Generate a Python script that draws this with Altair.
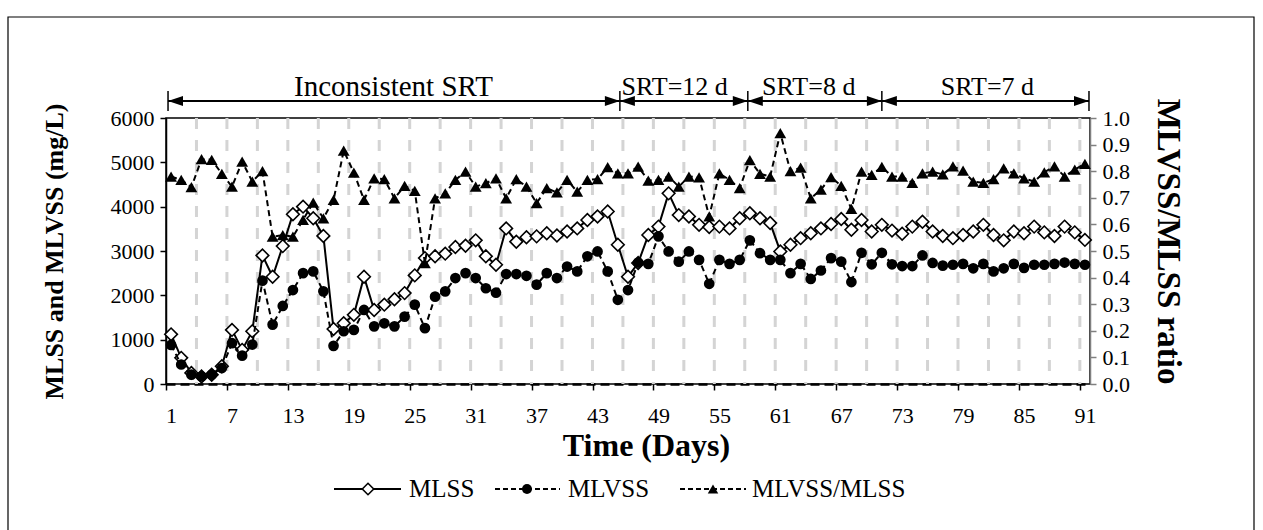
import altair as alt
import pandas as pd

# ---- data -----------------------------------------------------------------
days = list(range(1, 92))

mlss = [1120, 590, 250, 170, 210, 400, 1220, 770, 1190, 2900,
        2420, 3110, 3830, 4000, 3740, 3340, 1240, 1370, 1560, 2420,
        1670, 1790, 1910, 2050, 2450, 2840, 2880, 2940, 3090, 3120,
        3240, 2880, 2690, 3510, 3210, 3310, 3330, 3400, 3350, 3440,
        3510, 3700, 3780, 3890, 3140, 2420, 2730, 3360, 3550, 4300,
        3810, 3780, 3590, 3540, 3550, 3510, 3740, 3850, 3740, 3630,
        2990, 3140, 3290, 3400, 3510, 3610, 3720, 3480, 3700, 3440,
        3590, 3460, 3390, 3550, 3660, 3440, 3340, 3290, 3360, 3440,
        3590, 3360, 3240, 3440, 3400, 3550, 3420, 3340, 3550, 3420,
        3250]

mlvss = [880, 440, 210, 170, 210, 360, 920, 640, 890, 2330,
         1340, 1760, 2120, 2500, 2540, 2090, 860, 1190, 1220, 1670,
         1300, 1370, 1300, 1520, 1790, 1260, 1970, 2090, 2390, 2500,
         2390, 2160, 2060, 2480, 2480, 2440, 2240, 2500, 2390, 2650,
         2540, 2880, 2990, 2540, 1900, 2120, 2740, 2710, 3330, 2990,
         2760, 2990, 2800, 2260, 2800, 2710, 2800, 3240, 2950, 2800,
         2800, 2500, 2710, 2370, 2560, 2840, 2760, 2300, 2960, 2700,
         2960, 2700, 2660, 2660, 2900, 2730, 2670, 2690, 2710, 2610,
         2710, 2540, 2610, 2710, 2620, 2690, 2690, 2710, 2740, 2710,
         2690]

ratio = [0.780, 0.767, 0.740, 0.845, 0.843, 0.790, 0.742, 0.836, 0.761, 0.800,
         0.554, 0.560, 0.554, 0.617, 0.682, 0.623, 0.692, 0.877, 0.795, 0.692,
         0.773, 0.770, 0.698, 0.745, 0.726, 0.454, 0.698, 0.717, 0.767, 0.798,
         0.742, 0.755, 0.773, 0.698, 0.770, 0.742, 0.680, 0.736, 0.720, 0.767,
         0.723, 0.767, 0.770, 0.815, 0.792, 0.792, 0.817, 0.765, 0.767, 0.780,
         0.742, 0.780, 0.777, 0.630, 0.792, 0.767, 0.736, 0.842, 0.790, 0.780,
         0.943, 0.800, 0.813, 0.698, 0.731, 0.778, 0.745, 0.658, 0.798, 0.786,
         0.816, 0.780, 0.780, 0.756, 0.792, 0.798, 0.788, 0.818, 0.802, 0.761,
         0.756, 0.770, 0.811, 0.792, 0.773, 0.761, 0.796, 0.818, 0.780, 0.806,
         0.828]

x_ticks = list(range(1, 92, 6))
left_ticks = [0, 1000, 2000, 3000, 4000, 5000, 6000]
right_ticks = [round(0.1 * i, 1) for i in range(11)]
grid_days = [d + 0.5 for d in range(3, 91, 3)]

periods = ["Inconsistent SRT", "SRT=12 d", "SRT=8 d", "SRT=7 d"]
period_start = [0.7, 45.2, 57.8, 71.0]
period_end = [45.2, 57.8, 71.0, 91.4]
period_label_day = [22.9, 50.6, 63.8, 81.4]
period_font = [29, 26, 26, 26]

legend_labels = ["MLSS", "MLVSS", "MLVSS/MLSS"]

# ---- layout / style ---------------------------------------------------------
FONT = "Liberation Serif"
W, H = 924, 266
PAD_L, PAD_T = 166, 118

df = pd.DataFrame({"day": days, "mlss": mlss, "mlvss": mlvss, "ratio": ratio})

x_scale = alt.Scale(domain=[0.5, 91.5], nice=False, zero=False)
x_axis = alt.Axis(
    values=x_ticks, title="Time (Days)", grid=False,
    tickOffset=-5, labelOffset=5, tickSize=6, tickColor="black", tickWidth=1.5,
    domainColor="black", domainWidth=2.5, domainDash=[9, 5],
    labelFont=FONT, labelFontSize=22, labelColor="black", labelPadding=15,
    labelFlush=False,
    titleFont=FONT, titleFontSize=32, titleFontWeight="bold", titleColor="black",
    titlePadding=4, titleX=480, titleAnchor="middle",
)

left_scale = alt.Scale(domain=[0, 6000], nice=False)
right_scale = alt.Scale(domain=[0, 1.0], nice=False)

left_axis = alt.Axis(
    orient="left", values=left_ticks, format="d", title="MLSS and MLVSS (mg/L)",
    grid=False, tickSize=6, tickColor="black", tickWidth=1.5,
    domainColor="black", domainWidth=1.5,
    labelFont=FONT, labelFontSize=22, labelColor="black", labelPadding=6,
    titleFont=FONT, titleFontSize=26, titleFontWeight="bold", titleColor="black",
    titlePadding=43,
)
right_axis = alt.Axis(
    orient="right", values=right_ticks, format=".1f", title="MLVSS/MLSS ratio",
    grid=False, tickSize=6, tickColor="#808080", tickWidth=1.5,
    domainColor="#808080", domainWidth=1.5,
    labelFont=FONT, labelFontSize=22, labelColor="black", labelPadding=6,
    titleFont=FONT, titleFontSize=33, titleFontWeight="bold", titleColor="black",
    titleAngle=90, titlePadding=21, titleY=123, titleAnchor="middle",
)

X = alt.X("day:Q", scale=x_scale, axis=x_axis)

# dashed vertical gridlines
grid = alt.Chart(pd.DataFrame({"day": grid_days})).mark_rule(
    color="#d4d4d4", strokeWidth=3, strokeDash=[11, 11]
).encode(x=X, y=alt.value(0), y2=alt.value(H))

base = alt.Chart(df)

mlss_line = base.mark_line(color="black", strokeWidth=2).encode(
    x=X, y=alt.Y("mlss:Q", scale=left_scale, axis=left_axis))
mlss_pts = base.mark_point(shape="diamond", filled=True, fill="white",
                           stroke="black", strokeWidth=1.6, size=160, opacity=1).encode(
    x=X, y=alt.Y("mlss:Q", scale=left_scale, axis=None))

mlvss_line = base.mark_line(color="black", strokeWidth=2, strokeDash=[6, 4]).encode(
    x=X, y=alt.Y("mlvss:Q", scale=left_scale, axis=None))
mlvss_pts = base.mark_point(shape="circle", filled=True, color="black",
                            size=115, opacity=1).encode(
    x=X, y=alt.Y("mlvss:Q", scale=left_scale, axis=None))

ratio_line = base.mark_line(color="black", strokeWidth=2, strokeDash=[6, 4]).encode(
    x=X, y=alt.Y("ratio:Q", scale=right_scale, axis=right_axis))
ratio_pts = base.mark_point(shape="triangle-up", filled=True, color="black",
                            size=140, opacity=1).encode(
    x=X, y=alt.Y("ratio:Q", scale=right_scale, axis=None))

# period arrows above the plot
pdf = pd.DataFrame({"day": period_start, "day2": period_end,
                    "mid": period_label_day, "label": periods, "fs": period_font})
ARROW_Y = -17
arrows = alt.Chart(pdf).mark_rule(color="black", strokeWidth=2).encode(
    x=X, x2=alt.X2("day2:Q"), y=alt.value(ARROW_Y))
head_l = alt.Chart(pdf).mark_point(
    shape="M0,0L1.5,-0.5L1.5,0.5Z", filled=True, color="black", size=400, opacity=1
).encode(x=X, y=alt.value(ARROW_Y))
head_r = alt.Chart(pd.DataFrame({"day": period_end})).mark_point(
    shape="M0,0L-1.5,-0.5L-1.5,0.5Z", filled=True, color="black", size=400, opacity=1
).encode(x=X, y=alt.value(ARROW_Y))
bars = alt.Chart(pd.DataFrame({"day": sorted(set(period_start + period_end))})).mark_rule(
    color="black", strokeWidth=1.5
).encode(x=X, y=alt.value(ARROW_Y - 10), y2=alt.value(ARROW_Y + 10))
period_text = alt.Chart(pdf).mark_text(
    font=FONT, color="black", baseline="middle", align="center"
).encode(x=alt.X("mid:Q", scale=x_scale, axis=x_axis), y=alt.value(-31),
         text="label:N", size=alt.Size("fs:Q", scale=None, legend=None))

# legend drawn below the x axis title
one = pd.DataFrame({"k": [0]})
LEG_Y = 371
legend_layers = []
leg_specs = [
    # (line x0, line x1, symbol x, text x, dash, symbol mark kwargs)
    (168, 235, 202, 243, None, dict(shape="diamond", filled=True, fill="white",
                                   stroke="black", strokeWidth=1.6, size=130)),
    (329, 394, 361, 402, [5, 3], dict(shape="circle", filled=True, color="black", size=100)),
    (514, 580, 547, 586, [5, 3], dict(shape="triangle-up", filled=True, color="black", size=110)),
]
for label, (lx0, lx1, sx, tx, dash, sym) in zip(legend_labels, leg_specs):
    rule_kw = dict(color="black", strokeWidth=2)
    if dash:
        rule_kw["strokeDash"] = dash
    legend_layers.append(alt.Chart(one).mark_rule(**rule_kw).encode(
        x=alt.value(lx0), x2=alt.value(lx1), y=alt.value(LEG_Y)))
    legend_layers.append(alt.Chart(one).mark_point(opacity=1, **sym).encode(
        x=alt.value(sx), y=alt.value(LEG_Y)))
    legend_layers.append(alt.Chart(one).mark_text(
        font=FONT, fontSize=25, color="black", align="left", baseline="middle", text=label
    ).encode(x=alt.value(tx), y=alt.value(LEG_Y)))

# outer frame around the whole figure
frame = alt.Chart(one).mark_rect(fill=None, stroke="black", strokeWidth=1.2).encode(
    x=alt.value(8 - PAD_L), x2=alt.value(1254 - PAD_L),
    y=alt.value(17 - PAD_T), y2=alt.value(560 - PAD_T))

chart = alt.layer(
    grid,
    mlss_line, mlss_pts,
    mlvss_line, mlvss_pts,
    ratio_line, ratio_pts,
    arrows, bars, head_l, head_r, period_text,
    *legend_layers,
    frame,
).resolve_scale(y="independent").properties(
    width=W, height=H,
    autosize=alt.AutoSizeParams(type="none"),
    padding={"left": PAD_L, "top": PAD_T, "right": 1263 - PAD_L - W,
             "bottom": 530 - PAD_T - H},
    background="white",
).configure_view(stroke="black", strokeWidth=1.5)

chart.save("out.html", embed_options={"renderer": "svg", "actions": False})
